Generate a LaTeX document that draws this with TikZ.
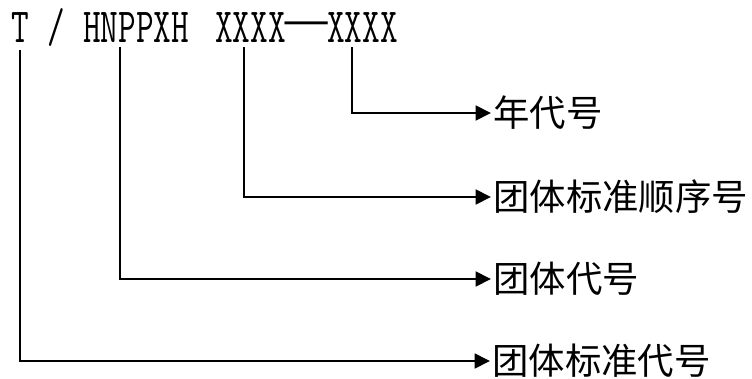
\documentclass[tikz,border=0pt]{standalone}
\usepackage{fontspec}
\newfontfamily\cjk{Noto Sans CJK SC}
\usetikzlibrary{arrows.meta}

\newcommand\tallcode[1]{\scalebox{1}[1.43]{#1}}

\tikzset{
  code/.style={anchor=base west, inner sep=0pt, font=\ttfamily\fontsize{25.7pt}{30pt}\selectfont},
  lbl/.style={anchor=west, inner xsep=1.5pt, inner ysep=0pt, font=\cjk\fontsize{27.3pt}{32pt}\selectfont},
  link/.style={line width=2pt, -{Triangle[length=11.5pt,width=11pt]}},
}

\begin{document}
\begin{tikzpicture}[x=0.75pt, y=-0.75pt]
  \useasboundingbox (0,0) rectangle (752,378);
  % code line
  \node[code] (t) at (11,43) {\tallcode{T}};
  \node[code] (slash) at (47,43) {\tallcode{/}};
  \node[code] (org) at (83,43) {\tallcode{HNPPXH}};
  \node[code] (seq) at (215,43) {\tallcode{XXXX}};
  \node[code, anchor=base, font=\cjk\fontsize{27pt}{32pt}\selectfont] (dash) at (307,37) {\makebox[29.5pt]{\scalebox{1.5}[1.3]{—}}};
  \node[code] (yr) at (327,43) {\tallcode{XXXX}};

  % labels
  \node[lbl] (lyr) at (491,113) {年代号};
  \node[lbl] (lseq) at (491,197) {团体标准顺序号};
  \node[lbl] (lorg) at (491,279) {团体代号};
  \node[lbl] (lt) at (490,361) {团体标准代号};

  % line tops
  \coordinate (tyr) at (352,47);
  \coordinate (tseq) at (244,47);
  \coordinate (torg) at (120,47);
  \coordinate (tt) at (20,50);

  \draw[link] (tyr) |- (lyr.west);
  \draw[link] (tseq) |- (lseq.west);
  \draw[link] (torg) |- (lorg.west);
  \draw[link] (tt) |- (lt.west);
\end{tikzpicture}
\end{document}
